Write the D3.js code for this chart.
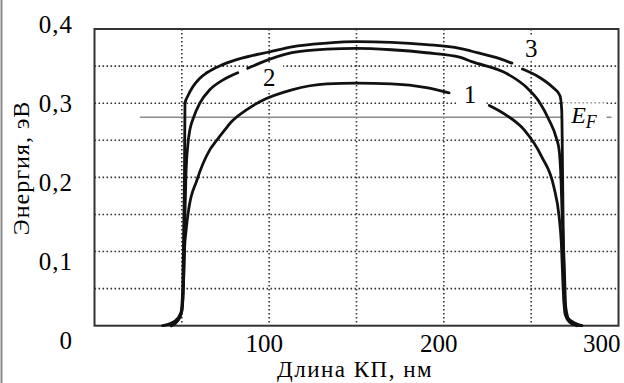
<!DOCTYPE html>
<html>
<head>
<meta charset="utf-8">
<script src="https://d3js.org/d3.v7.min.js"></script>
<style>
  body { margin: 0; background: white; }
  svg text { font-family: 'Liberation Serif', 'Times New Roman', serif; fill: #000; }
</style>
</head>
<body>
<svg id="chart" width="624" height="383"></svg>
<script>
// values: [length nm, energy eV], null = break in the line
var curve1 = [[44,0],[48,0.008],[50,0.02],[51,0.06],[51.5,0.1],[52.5,0.13],[54,0.158],[58.6,0.196],[66,0.237],[70,0.25],[74.6,0.264],[78,0.274],[87,0.291],[94.6,0.302],[113,0.318],[133,0.326],[150,0.327],[170,0.326],[190,0.321],[203,0.314],
  null,[226,0.297],[235.7,0.284],[246,0.264],[256,0.228],[263,0.187],[266,0.147],[267.3,0.11],[268.3,0.05],[269.5,0.015],[273,0.003],[279,0]];
var curve2 = [[44,0],[48,0.008],[50,0.02],[51,0.06],[51.8,0.15],[52.3,0.2],[53.4,0.243],[54.6,0.264],[56.3,0.278],[60.3,0.3],[66,0.318],[73.4,0.331],[82,0.341],
  null,[87.7,0.347],[94.6,0.354],[113,0.368],[133,0.373],[150,0.374],[170,0.372],[190,0.368],[209,0.362],[216,0.356],[236,0.34],[247,0.322],[254.6,0.302],[260.3,0.277],[264.3,0.254],[266,0.237],[267.1,0.196],[267.7,0.152],[268.9,0.085],[269.8,0.025],[272,0.006],[276,0]];
var curve3 = [[39,0],[46,0.006],[49.5,0.018],[50.5,0.05],[51,0.12],[51.5,0.2],[51.8,0.3],[53.5,0.31],[56.3,0.322],[60,0.333],[64.3,0.341],[73.4,0.352],[84.9,0.361],[100,0.369],[113,0.376],[133,0.381],[150,0.383],[170,0.382],[190,0.379],[209,0.374],[216,0.37],[232,0.36],[239,0.354],
  null,[245,0.346],[254.6,0.335],[262,0.322],[266.5,0.31],[267.5,0.29],[268,0.2],[268.5,0.1],[269,0.03],[271,0.01],[279,0]];
var fermi = 0.281;
var fermiRange = [26, 296];

var xTicks = [100, 200, 300];
var yTicks = [0, 0.1, 0.2, 0.3, 0.4];
var yTickText = ['0', '0,1', '0,2', '0,3', '0,4'];
var xGrid = [50, 100, 150, 200, 250];
var yGrid = [0.05, 0.1, 0.15, 0.2, 0.25, 0.3, 0.35];

var curveLabels = [
  { text: '1', x: 215, y: 0.300 },
  { text: '2', x: 100, y: 0.323 },
  { text: '3', x: 250, y: 0.362 }
];

var pLeft = 94.5, pTop = 29, pRight = 618.5, pBottom = 325.7;
var svg = d3.select('#chart');

var x = d3.scaleLinear().domain([0, 300]).range([pLeft, pRight]);
var y = d3.scaleLinear().domain([0, 0.4]).range([pBottom, pTop]);
// tick labels in the picture sit a little off the grid
var yLab = d3.scaleLinear().domain([0, 0.4]).range([340, 24]);

// left border of the picture
svg.append('line')
  .attr('x1', 1.5).attr('x2', 1.5).attr('y1', 0).attr('y2', 383)
  .attr('stroke', '#8a8a8a').attr('stroke-width', 2);

// grid
svg.append('g').selectAll('line').data(xGrid).join('line')
  .attr('x1', d => x(d)).attr('x2', d => x(d))
  .attr('y1', pTop).attr('y2', pBottom)
  .attr('stroke', '#333').attr('stroke-width', 1.6)
  .attr('stroke-dasharray', '1.6 2.4');
svg.append('g').selectAll('line').data(yGrid).join('line')
  .attr('x1', pLeft).attr('x2', pRight)
  .attr('y1', d => y(d)).attr('y2', d => y(d))
  .attr('stroke', '#333').attr('stroke-width', 1.6)
  .attr('stroke-dasharray', '1.6 2.4');

// Fermi level
svg.append('line')
  .attr('x1', x(fermiRange[0])).attr('x2', x(fermiRange[1]))
  .attr('y1', y(fermi)).attr('y2', y(fermi))
  .attr('stroke', '#8a8a8a').attr('stroke-width', 1.6);

// white boxes behind the labels (cut the grid)
var halo = svg.append('g');
curveLabels.forEach(function (d) {
  halo.append('rect')
    .attr('x', x(d.x) - 14).attr('y', y(d.y) - 22)
    .attr('width', 28).attr('height', 26)
    .attr('fill', 'white');
});
halo.append('rect')
  .attr('x', x(268)).attr('y', y(fermi) - 14)
  .attr('width', 44).attr('height', 30)
  .attr('fill', 'white');

// frame
svg.append('rect')
  .attr('x', pLeft).attr('y', pTop)
  .attr('width', pRight - pLeft).attr('height', pBottom - pTop)
  .attr('fill', 'none').attr('stroke', '#333').attr('stroke-width', 2);

// curves
var line = d3.line()
  .defined(d => d !== null)
  .x(d => x(d[0])).y(d => y(d[1]))
  .curve(d3.curveMonotoneX);

svg.append('g').selectAll('path').data([curve1, curve2, curve3]).join('path')
  .attr('d', line)
  .attr('fill', 'none')
  .attr('stroke', '#111')
  .attr('stroke-width', 2.8)
  .attr('stroke-linejoin', 'round')
  .attr('stroke-linecap', 'round');

// curve numbers
svg.append('g').selectAll('text').data(curveLabels).join('text')
  .attr('x', d => x(d.x)).attr('y', d => y(d.y))
  .attr('text-anchor', 'middle')
  .style('font-size', '25px')
  .text(d => d.text);

// E_F
var ef = svg.append('text')
  .attr('x', x(272.9)).attr('y', y(fermi) + 6)
  .style('font-size', '24px').style('font-style', 'italic');
ef.append('tspan').text('E');
ef.append('tspan').attr('dy', 5).style('font-size', '18px').text('F');

// tick labels
svg.append('g').selectAll('text').data(xTicks).join('text')
  .attr('x', d => d === 300 ? x(d) + 2 : x(d) - 5)
  .attr('y', 352)
  .attr('text-anchor', d => d === 300 ? 'end' : 'middle')
  .style('font-size', '25px')
  .text(d => d);

svg.append('g').selectAll('text').data(yTicks).join('text')
  .attr('x', 73)
  .attr('y', d => yLab(d))
  .attr('dy', '0.35em')
  .attr('text-anchor', 'end')
  .style('font-size', '25px')
  .style('letter-spacing', '1px')
  .text((d, i) => yTickText[i]);

// axis titles
svg.append('text')
  .attr('x', 355).attr('y', 377)
  .attr('text-anchor', 'middle')
  .style('font-size', '23px')
  .style('letter-spacing', '1.5px')
  .text('Длина КП, нм');

svg.append('text')
  .attr('transform', 'translate(29,168) rotate(-90)')
  .attr('text-anchor', 'middle')
  .style('font-size', '24px')
  .style('letter-spacing', '1px')
  .text('Энергия, эВ');
</script>
</body>
</html>
